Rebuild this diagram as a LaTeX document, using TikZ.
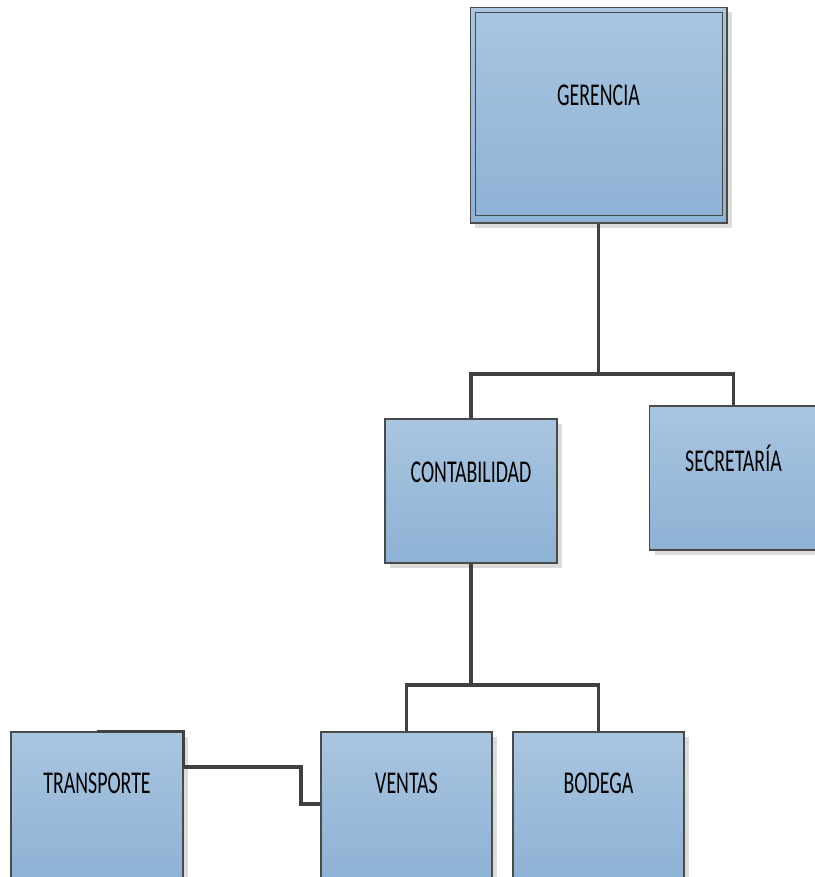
\documentclass[tikz,border=0pt]{standalone}
\usepackage{fontspec}
\setmainfont{Carlito}
\usepackage{tikz}
\usetikzlibrary{shadows}
\definecolor{celesteA}{HTML}{A9C5E0}
\definecolor{celesteB}{HTML}{8EB2D5}
\definecolor{borde}{HTML}{4A4A4A}
\definecolor{linea}{HTML}{404040}
\newcommand{\rot}[1]{\scalebox{1}[1.6]{\fontsize{11.3}{13}\selectfont #1}}

\begin{document}
\begin{tikzpicture}[x=0.02cm,y=-0.02cm,
  caja/.style={rectangle,draw=borde,line width=0.6pt,inner sep=0pt,
    top color=celesteA,bottom color=celesteB,minimum height=2.88cm,
    drop shadow={shadow xshift=0.1cm,shadow yshift=-0.1cm,fill=black!14,opacity=1}},
  cajabaja/.style={caja,minimum height=2.96cm},
  conector/.style={draw=linea,line width=2pt}]
\useasboundingbox (0,0) rectangle (815,877);

\node[caja,minimum width=5.14cm,minimum height=4.32cm,label={[yshift=0.4cm]center:\rot{GERENCIA}}] (ger) at (598.5,115) {};
\draw[borde,line width=0.6pt] ([shift={(0.12cm,-0.12cm)}]ger.north west) rectangle ([shift={(-0.1cm,0.16cm)}]ger.south east);

\node[caja,minimum width=3.44cm,label={[yshift=0.38cm]center:\rot{CONTABILIDAD}}] (cont) at (471,491) {};
\node[caja,minimum width=3.36cm,label={[yshift=0.4cm]center:\rot{SECRETARÍA}}] (sec) at (733.5,478) {};
\node[cajabaja,minimum width=3.44cm,label={[yshift=0.46cm]center:\rot{TRANSPORTE}}] (trans) at (97,806) {};
\node[cajabaja,minimum width=3.42cm,label={[yshift=0.46cm]center:\rot{VENTAS}}] (ven) at (406.5,806) {};
\node[cajabaja,minimum width=3.42cm,label={[yshift=0.46cm]center:\rot{BODEGA}}] (bod) at (598.5,806) {};

\coordinate (b1) at (598.5,374);
\coordinate (b2) at (471,685);
\coordinate (t1) at (301,767);

\draw[conector] (ger.south) -- (b1);
\draw[conector] (b1) -| (cont.north);
\draw[conector] (b1) -| (sec.north);
\draw[conector] (cont.south) -- (b2);
\draw[conector] (b2) -| (ven.north);
\draw[conector] (b2) -| (bod.north);
\draw[conector] (trans.north) -- (trans.north east) |- (t1) |- ([yshift=0.04cm]ven.west);
\end{tikzpicture}
\end{document}
